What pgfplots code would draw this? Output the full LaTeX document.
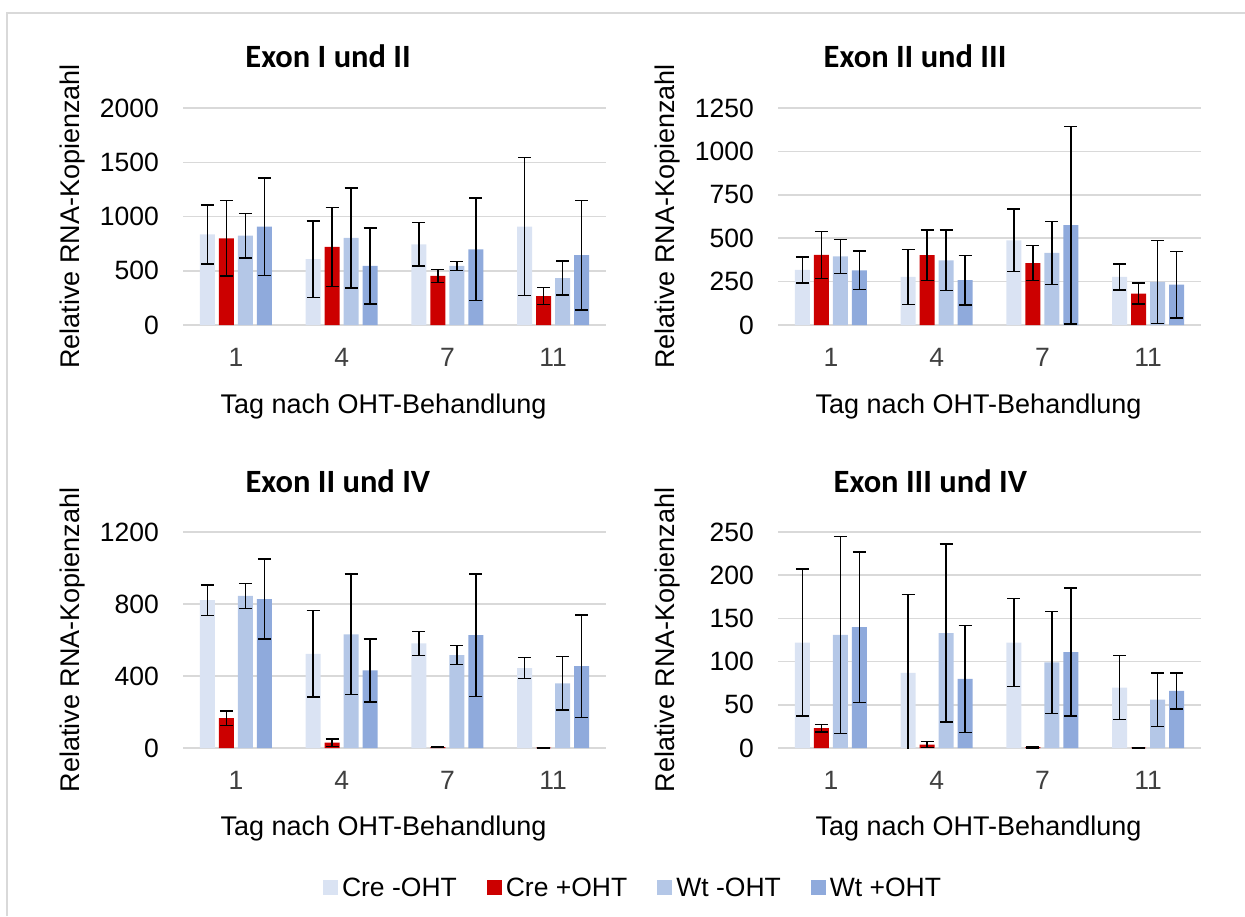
\documentclass[border=0pt]{standalone}
\usepackage{pgfplots}
\pgfplotsset{compat=1.18}
\usepackage{fontspec}
\setmainfont{Liberation Sans}
\newfontfamily\titlefont{Carlito}
\definecolor{cA}{HTML}{DAE3F3}
\definecolor{cB}{HTML}{CC0000}
\definecolor{cC}{HTML}{B4C7E7}
\definecolor{cD}{HTML}{8FAADC}
\definecolor{gridc}{HTML}{D9D9D9}
\definecolor{ticgray}{HTML}{404040}
\pgfplotsset{
  sqleg/.style={legend image code/.code={\fill[##1] (0pt,-7.5pt) rectangle (15pt,7.5pt);}},
  myax/.style={
    scale only axis, width=423pt,
    ybar, bar width=0.142,
    xmin=-0.5, xmax=3.5, xtick={0,1,2,3}, xticklabels={1,4,7,11},
    ymin=0,
    axis line style={draw=none}, major tick length=0pt,
    ymajorgrids, grid style={color=gridc, line width=1.5pt},
    tick label style={font=\fontsize{26.5}{31}\selectfont},
    yticklabel style={anchor=east, inner sep=0pt, xshift=-24pt},
    xticklabel style={anchor=north, inner sep=0pt, yshift=-23pt, text=ticgray},
    /pgf/number format/assume math mode=true, /pgf/number format/1000 sep={},
    label style={font=\fontsize{27}{32}\selectfont},
    xlabel={Tag nach OHT-Behandlung},
    ylabel={Relative RNA-Kopienzahl},
    xlabel style={at={(axis description cs:0.474,-0.315)}, anchor=north, inner sep=0pt},
    ylabel style={at={(axis description cs:-0.262,0.5)}, anchor=center, inner sep=0pt},
    error bars/y dir=both, error bars/y explicit,
    error bars/error bar style={draw=black, line width=1.4pt, solid},
    error bars/error mark options={rotate=90, draw=black, line width=1.4pt, mark size=6.5pt},
    title style={font=\titlefont\bfseries\fontsize{32.5}{38}\selectfont, anchor=base, inner sep=0pt},
  },
  pA/.style={fill=cA, draw=none, bar shift=-0.27, sqleg},
  pB/.style={fill=cB, draw=none, bar shift=-0.09, sqleg},
  pC/.style={fill=cC, draw=none, bar shift=0.09, sqleg},
  pD/.style={fill=cD, draw=none, bar shift=0.27, sqleg},
}
\begin{document}
\begin{tikzpicture}
\path[use as bounding box] (0pt,0pt) rectangle (1245pt,-916pt);
\draw[color=gridc, line width=1.5pt] (7pt,-916pt) -- (7pt,-13pt) -- (1245pt,-13pt);

% Plot 1
\begin{axis}[myax, at={(183pt,-325pt)}, anchor=south west, height=217pt,
  ymax=2000, ytick={0,500,1000,1500,2000},
  title={Exon I und II}, title style={at={(axis description cs:0.343,1.157)}}]
\addplot[pA] coordinates {(0,835) +- (0,272) (1,608) +- (0,352) (2,744) +- (0,200) (3,906) +- (0,636)};
\addplot[pB] coordinates {(0,799) +- (0,347) (1,719) +- (0,362) (2,452) +- (0,60) (3,267) +- (0,78)};
\addplot[pC] coordinates {(0,823) +- (0,206) (1,802) +- (0,460) (2,544) +- (0,42) (3,433) +- (0,157)};
\addplot[pD] coordinates {(0,906) +- (0,450) (1,544) +- (0,349) (2,697) +- (0,473) (3,645) +- (0,505)};
\end{axis}

% Plot 2
\begin{axis}[myax, at={(778pt,-325pt)}, anchor=south west, height=217pt,
  ymax=1250, ytick={0,250,500,750,1000,1250},
  title={Exon II und III}, title style={at={(axis description cs:0.324,1.157)}}]
\addplot[pA] coordinates {(0,317) +- (0,74) (1,277) +- (0,158) (2,488) +- (0,180) (3,277) +- (0,75)};
\addplot[pB] coordinates {(0,404) +- (0,135) (1,402) +- (0,146) (2,356) +- (0,101) (3,181) +- (0,60)};
\addplot[pC] coordinates {(0,396) +- (0,98) (1,373) +- (0,175) (2,415) +- (0,180) (3,248) +- (0,238)};
\addplot[pD] coordinates {(0,315) +- (0,112) (1,258) +- (0,143) (2,575) +- (0,570) (3,233) +- (0,192)};
\end{axis}

% Plot 3
\begin{axis}[myax, at={(183pt,-748pt)}, anchor=south west, height=216pt,
  ymax=1200, ytick={0,400,800,1200},
  title={Exon II und IV}, title style={at={(axis description cs:0.366,1.153)}},
  legend style={at={(1.0615,-0.648)}, anchor=center, draw=none, fill=none,
    legend columns=4, font=\fontsize{26.5}{31}\selectfont,
    nodes={inner sep=0pt},
    /tikz/every odd column/.append style={column sep=4pt},
    /tikz/every even column/.append style={column sep=30pt}}]
\addplot[pA] coordinates {(0,821) +- (0,85) (1,523) +- (0,240) (2,581) +- (0,66) (3,444) +- (0,59)};
\addplot[pB] coordinates {(0,166) +- (0,40) (1,30) +- (0,20) (2,5) +- (0,3) (3,2) +- (0,1)};
\addplot[pC] coordinates {(0,845) +- (0,70) (1,631) +- (0,335) (2,516) +- (0,53) (3,359) +- (0,148)};
\addplot[pD] coordinates {(0,827) +- (0,222) (1,431) +- (0,175) (2,627) +- (0,340) (3,455) +- (0,284)};
\legend{Cre -OHT, Cre +OHT, Wt -OHT, Wt +OHT}
\end{axis}

% Plot 4
\begin{axis}[myax, at={(778pt,-748pt)}, anchor=south west, height=216pt,
  ymax=250, ytick={0,50,100,150,200,250},
  title={Exon III und IV}, title style={at={(axis description cs:0.36,1.153)}}]
\addplot[pA] coordinates {(0,122) +- (0,85) (1,87) +- (0,91) (2,122) +- (0,51) (3,70) +- (0,37)};
\addplot[pB] coordinates {(0,23) +- (0,4.5) (1,4) +- (0,3.5) (2,1) +- (0,1) (3,0.5) +- (0,0.3)};
\addplot[pC] coordinates {(0,131) +- (0,114) (1,133) +- (0,103) (2,99) +- (0,59) (3,56) +- (0,31)};
\addplot[pD] coordinates {(0,140) +- (0,87) (1,80) +- (0,62) (2,111) +- (0,74) (3,66) +- (0,21)};
\end{axis}
\end{tikzpicture}
\end{document}
